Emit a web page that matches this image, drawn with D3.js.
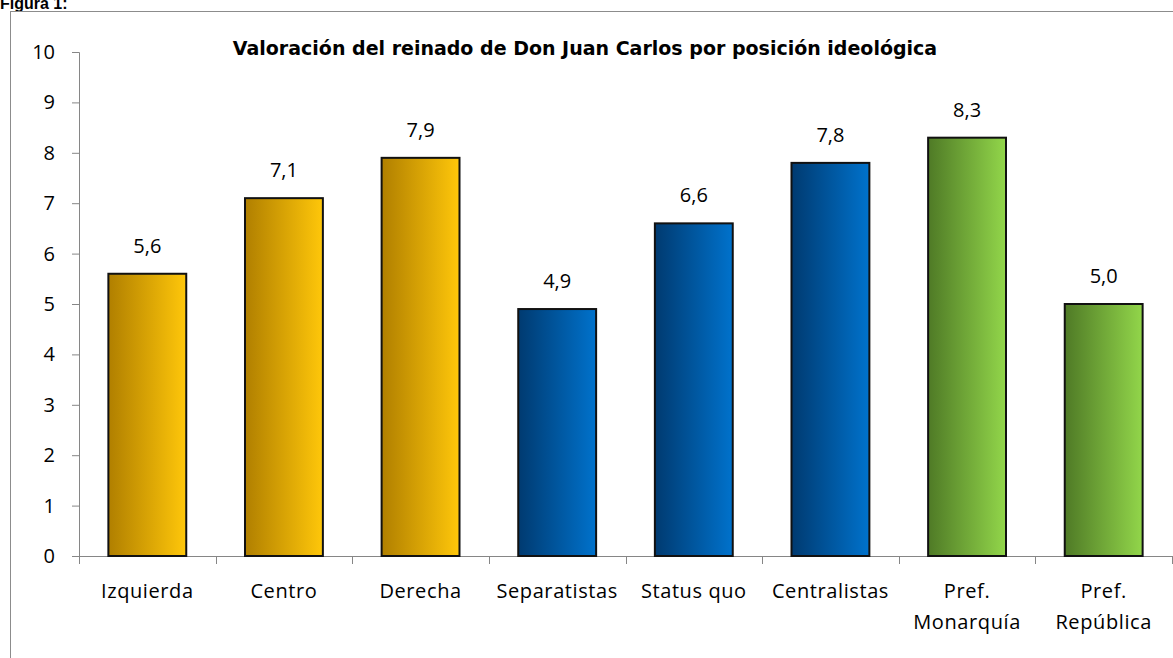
<html>
<head>
<meta charset="utf-8">
<script src="https://cdnjs.cloudflare.com/ajax/libs/d3/7.8.5/d3.min.js"></script>
<style>
  body { margin: 0; background: #fff; }
  svg text { font-family: "Open Sans", "Noto Sans", sans-serif; fill: #000; }
</style>
</head>
<body>
<div id="chartContainer"></div>
<script>
// chart data
var categories = ["Izquierda", "Centro", "Derecha", "Separatistas", "Status quo", "Centralistas", "Pref.\nMonarquía", "Pref.\nRepública"];
var values = [5.6, 7.1, 7.9, 4.9, 6.6, 7.8, 8.3, 5.0];
var groups = ["ideo", "ideo", "ideo", "terr", "terr", "terr", "forma", "forma"];
var yTicks = [0, 1, 2, 3, 4, 5, 6, 7, 8, 9, 10];

var W = 1173, H = 658;
var svg = d3.select("#chartContainer").append("svg")
  .attr("width", W).attr("height", H);

// gradients for each colour group (dark left -> light right)
var defs = svg.append("defs");
var grads = { ideo: ["#b07f00", "#ffc70a"], terr: ["#003a70", "#0072cc"], forma: ["#4f7a26", "#92d64a"] };
Object.keys(grads).forEach(function (k) {
  var g = defs.append("linearGradient").attr("id", "g_" + k)
    .attr("x1", "0%").attr("y1", "0%").attr("x2", "100%").attr("y2", "0%");
  g.append("stop").attr("offset", "0%").attr("stop-color", grads[k][0]);
  g.append("stop").attr("offset", "100%").attr("stop-color", grads[k][1]);
});

// figure caption, partly cut off at top like the scan
svg.append("text").attr("x", 0).attr("y", 9)
  .style("font-family", "'Liberation Sans', Arial, sans-serif")
  .style("font-weight", "bold").style("font-size", "16px")
  .text("Figura 1:");

// outer border of chart area
svg.append("rect").attr("x", 10.5).attr("y", 11.5)
  .attr("width", W).attr("height", H)
  .attr("fill", "none").attr("stroke", "#8c8c8c").attr("stroke-width", 1);

var x = d3.scaleBand().domain(categories).range([79, 1172]).paddingInner(0.43).paddingOuter(0.215);
var y = d3.scaleLinear().domain([0, 10]).range([556, 52]);

// title
svg.append("text").attr("x", 585).attr("y", 55)
  .attr("text-anchor", "middle")
  .style("font-family", "'DejaVu Sans', sans-serif")
  .style("font-weight", "bold").style("font-size", "19px")
  .text("Valoración del reinado de Don Juan Carlos por posición ideológica");

// y axis
var yAxis = svg.append("g").attr("transform", "translate(79,0)")
  .call(d3.axisLeft(y).tickValues(yTicks).tickSize(7).tickPadding(17).tickFormat(d3.format("d")));
yAxis.selectAll("path, line").attr("stroke", "#868686");
yAxis.selectAll("text").style("font-size", "20px").attr("fill", "#000");

// x axis line + ticks at band edges
var xEdges = d3.range(categories.length + 1).map(function (i) { return 79 + i * (1172 - 79) / categories.length; });
svg.append("line").attr("x1", 72).attr("x2", 1173).attr("y1", 556.5).attr("y2", 556.5).attr("stroke", "#868686");
svg.selectAll(".xt").data(xEdges).enter().append("line")
  .attr("x1", function (d) { return Math.round(d) + 0.5; }).attr("x2", function (d) { return Math.round(d) + 0.5; })
  .attr("y1", 556).attr("y2", 564).attr("stroke", "#868686");

// bars
svg.selectAll(".bar").data(values).enter().append("rect")
  .attr("x", function (d, i) { return x(categories[i]); })
  .attr("y", function (d) { return y(d); })
  .attr("width", x.bandwidth())
  .attr("height", function (d) { return y(0) - y(d); })
  .attr("fill", function (d, i) { return "url(#g_" + groups[i] + ")"; })
  .attr("stroke", "#111").attr("stroke-width", 2);

// value labels
svg.selectAll(".val").data(values).enter().append("text")
  .attr("x", function (d, i) { return x(categories[i]) + x.bandwidth() / 2; })
  .attr("y", function (d) { return y(d) - 21; })
  .attr("text-anchor", "middle").style("font-size", "20px")
  .text(function (d) { return d.toFixed(1).replace(".", ","); });

// category labels (multi-line)
categories.forEach(function (c, i) {
  var t = svg.append("text").attr("text-anchor", "middle")
    .style("font-size", "20px").style("letter-spacing", "0.6px");
  c.split("\n").forEach(function (line, j) {
    t.append("tspan").attr("x", x(c) + x.bandwidth() / 2).attr("y", 598 + j * 31).text(line);
  });
});
</script>
</body>
</html>
